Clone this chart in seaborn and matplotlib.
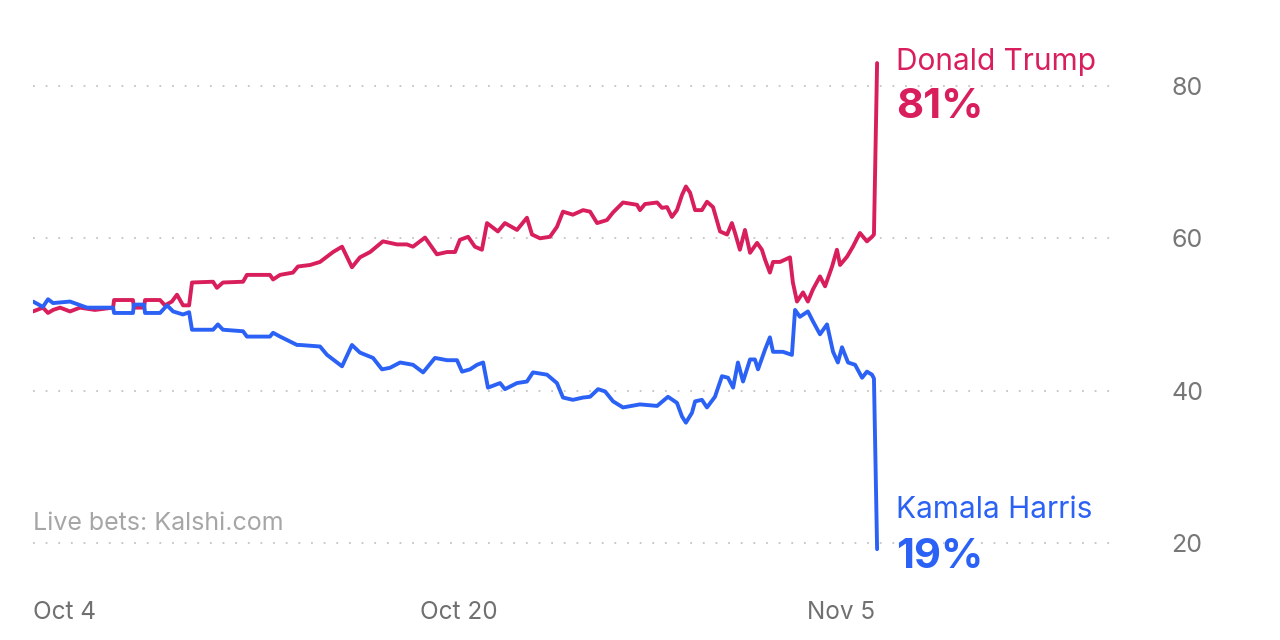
import numpy as np
import pandas as pd
import matplotlib
matplotlib.use("Agg")
import matplotlib.pyplot as plt
import seaborn as sns

# Days since Oct 4 and implied probability (%)
trump_day = [0.00, 0.41, 0.62, 0.83, 1.12, 1.53, 1.94, 2.56, 3.31, 3.35, 4.13, 4.17, 4.59, 4.63,
             5.25, 5.45, 5.74, 5.95, 6.20, 6.45, 6.57, 7.44, 7.60, 7.85, 8.68, 8.84, 9.79, 9.92,
             10.21, 10.74, 10.95, 11.45, 11.86, 12.40, 12.77, 13.18, 13.51, 13.93, 14.46, 15.04,
             15.45, 15.70, 16.20, 16.69, 17.11, 17.44, 17.64, 17.98, 18.26, 18.55, 18.76, 19.21,
             19.50, 20.00, 20.41, 20.62, 20.95, 21.36, 21.65, 21.90, 22.31, 22.73, 23.02, 23.31,
             23.72, 23.97, 24.38, 24.96, 25.08, 25.29, 25.79, 25.99, 26.20, 26.40, 26.61, 26.82,
             26.98, 27.15, 27.36, 27.64, 27.85, 28.10, 28.39, 28.68, 28.88, 29.01, 29.21, 29.42,
             29.63, 29.92, 30.12, 30.25, 30.45, 30.58, 30.87, 31.28, 31.40, 31.57, 31.82, 32.02,
             32.23, 32.52, 32.73, 33.02, 33.22, 33.35, 33.64, 33.88, 34.17, 34.46, 34.67, 34.75,
             34.88]
trump_pct = [50.4, 50.9, 50.2, 50.6, 50.9, 50.4, 50.9, 50.6, 50.9, 51.9, 51.9, 50.9, 50.9, 51.9,
             51.9, 51.2, 51.7, 52.6, 51.2, 51.2, 54.2, 54.3, 53.5, 54.2, 54.3, 55.2, 55.2, 54.6,
             55.2, 55.5, 56.3, 56.5, 56.9, 58.2, 58.9, 56.2, 57.5, 58.2, 59.6, 59.2,
             59.2, 58.9, 60.1, 57.9, 58.2, 58.2, 59.8, 60.2, 58.9, 58.5, 62.0, 60.9,
             62.0, 61.1, 62.7, 60.5, 60.0, 60.2, 61.5, 63.5, 63.1, 63.7, 63.5, 62.0,
             62.4, 63.4, 64.7, 64.4, 63.7, 64.5, 64.7, 64.0, 64.1, 62.8, 63.7, 65.7,
             66.8, 66.0, 63.7, 63.7, 64.8, 64.1, 60.9, 60.5, 62.0, 60.7, 58.5, 61.1,
             58.1, 59.4, 58.5, 57.2, 55.5, 56.9, 56.9, 57.5, 54.2, 51.7, 52.9, 51.7,
             53.3, 55.0, 53.7, 56.3, 58.5, 56.5, 57.6, 58.9, 60.7, 59.6, 60.2, 60.5,
             83.0]

harris_day = [0.00, 0.41, 0.62, 0.83, 1.53, 2.23, 3.31, 3.35, 4.13, 4.17, 4.59, 4.63, 5.25, 5.54,
              5.79, 6.20, 6.45, 6.57, 7.44, 7.64, 7.85, 8.68, 8.84, 9.79, 9.92, 10.21, 10.91,
              11.03, 11.86, 12.15, 12.77, 13.18, 13.51, 14.05, 14.42, 14.75, 15.17, 15.70, 16.12,
              16.61, 17.11, 17.52, 17.73, 18.06, 18.35, 18.60, 18.80, 19.30, 19.50, 20.00, 20.41,
              20.66, 21.24, 21.65, 21.90, 22.31, 22.73, 23.02, 23.35, 23.64, 23.97, 24.38, 25.08,
              25.79, 26.24, 26.61, 26.82, 26.98, 27.23, 27.36, 27.64, 27.85, 28.18, 28.47, 28.72,
              28.93, 29.13, 29.34, 29.63, 29.83, 29.96, 30.25, 30.45, 30.58, 30.99, 31.36, 31.49,
              31.69, 32.02, 32.23, 32.52, 32.81, 33.06, 33.26, 33.43, 33.68, 33.97, 34.26, 34.46,
              34.67, 34.75, 34.88]
harris_pct = [51.7, 51.0, 52.0, 51.5, 51.7, 50.9, 50.9, 50.2, 50.2, 51.3, 51.3, 50.2, 50.2, 51.2,
              50.4, 50.0, 50.3, 48.0, 48.0, 48.7, 48.0, 47.8, 47.1, 47.1, 47.6, 47.1, 46.0,
              46.0, 45.8, 44.7, 43.2, 46.0, 45.0, 44.3, 42.8, 43.0, 43.7, 43.4, 42.4,
              44.3, 44.0, 44.0, 42.5, 42.8, 43.4, 43.7, 40.4, 41.0, 40.2, 41.0, 41.2,
              42.4, 42.1, 41.0, 39.1, 38.8, 39.1, 39.2, 40.2, 39.9, 38.6, 37.8, 38.2,
              38.0, 39.2, 38.4, 36.6, 35.8, 37.1, 38.6, 38.8, 37.8, 39.2, 41.9, 41.7,
              40.4, 43.7, 41.2, 44.1, 44.1, 42.8, 45.4, 47.0, 45.1, 45.1, 44.7, 50.6,
              49.7, 50.4, 49.1, 47.4, 48.7, 45.1, 43.7, 45.7, 43.7, 43.4, 41.7, 42.5,
              42.1, 41.6, 19.2]

candidates = ["Donald Trump", "Kamala Harris"]
final_labels = ["81%", "19%"]
xtick_days = [0, 16, 32]
xtick_labels = ["Oct 4", "Oct 20", "Nov 5"]
ytick_vals = [20, 40, 60, 80]
source_note = "Live bets: Kalshi.com"

df = pd.concat([
    pd.DataFrame({"day": trump_day, "pct": trump_pct, "who": candidates[0]}),
    pd.DataFrame({"day": harris_day, "pct": harris_pct, "who": candidates[1]}),
])

PINK = "#D81E5B"
BLUE = "#2B62F5"

sns.set_theme(style="white")
plt.rcParams["font.family"] = ["Inter", "DejaVu Sans"]

fig = plt.figure(figsize=(12.8, 6.4), dpi=100)
ax = fig.add_axes([33 / 1280, 1 - 580 / 640, 1077 / 1280, 540 / 640])

sns.lineplot(data=df, x="day", y="pct", hue="who", palette=[PINK, BLUE],
             linewidth=2.8, legend=False, ax=ax, sort=False, estimator=None)

ax.set_xlim(0, 1077 / 24.2)
ax.set_ylim(15.15, 86.03)

for v in ytick_vals:
    ax.axhline(v, color="#C4C4C4", linewidth=1.3, linestyle=(0, (1, 6)), zorder=0)

ax.yaxis.tick_right()
ax.set_yticks(ytick_vals)
ax.set_yticklabels([str(v) for v in ytick_vals])
ax.tick_params(axis="y", length=0, pad=44, labelsize=18, labelcolor="#777777")
ax.set_xticks(xtick_days)
ax.set_xticklabels(xtick_labels, ha="left")
ax.tick_params(axis="x", length=0, pad=15, labelsize=17.5, labelcolor="#707070")
ax.set_xlabel("")
ax.set_ylabel("")
for s in ax.spines.values():
    s.set_visible(False)

lx = (896 - 33) / 24.2
ax.text(lx, 83.1, candidates[0], color=PINK, fontsize=21.5, va="center", ha="left")
ax.text(lx, 77.2, final_labels[0], color=PINK, fontsize=30, fontweight="bold", va="center", ha="left")
ax.text(lx, 24.3, candidates[1], color=BLUE, fontsize=21.5, va="center", ha="left")
ax.text(lx, 18.2, final_labels[1], color=BLUE, fontsize=30, fontweight="bold", va="center", ha="left")
ax.text(0, 22.6, source_note, color="#A6A6A6", fontsize=18, va="center", ha="left")

fig.savefig("out.png", dpi=100)
